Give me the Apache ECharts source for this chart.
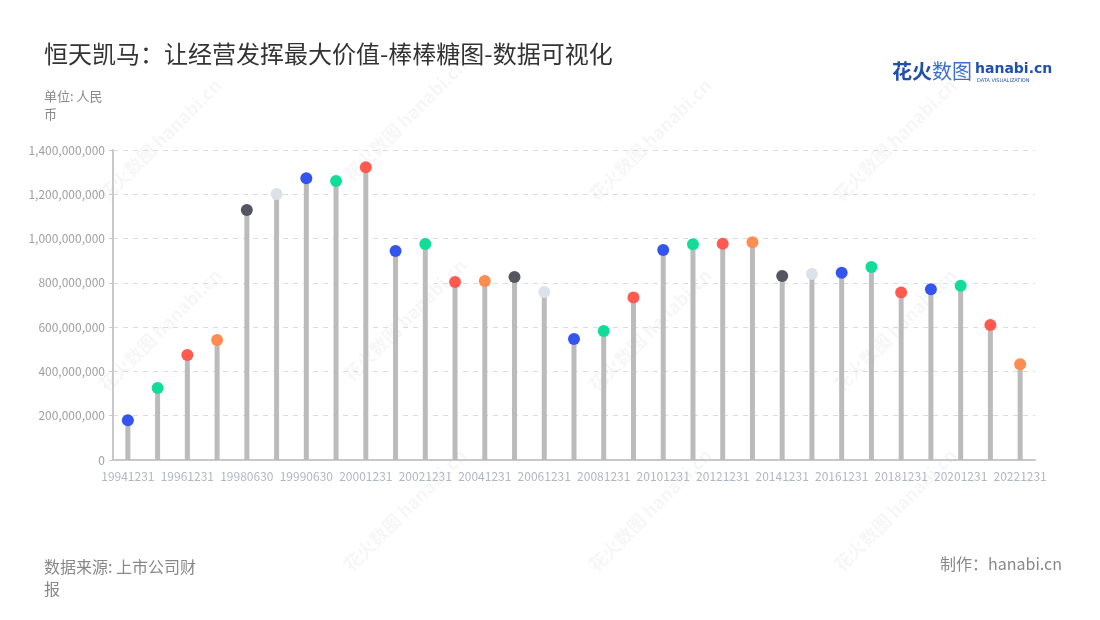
<!DOCTYPE html>
<html>
<head>
<meta charset="utf-8">
<script src="https://cdn.jsdelivr.net/npm/echarts@6/dist/echarts.min.js"></script>
<style>
html,body{margin:0;padding:0;background:#fff;}
#main{width:1100px;height:620px;}
</style>
</head>
<body>
<div id="main"></div>
<script>
const categories = ['19941231','19951231','19961231','19971231','19980630','19981231','19990630','19991231',
  '20001231','20011231','20021231','20031231','20041231','20051231','20061231','20071231','20081231','20091231',
  '20101231','20111231','20121231','20131231','20141231','20151231','20161231','20171231','20181231','20191231',
  '20201231','20211231','20221231'];
const values = [180e6,325e6,474e6,542e6,1129e6,1201e6,1272e6,1260e6,
  1322e6,944e6,975e6,804e6,808e6,826e6,759e6,546e6,583e6,734e6,
  948e6,974e6,977e6,983e6,831e6,840e6,846e6,872e6,756e6,771e6,
  787e6,610e6,432e6];
const palette = ['#3355ee','#11dd99','#ff5a50','#ff8c50','#55555f','#dde1ea','#3355ee','#11dd99','#ff5a50'];
const yTicks = { min: 0, max: 1400000000, interval: 200000000 };

const chart = echarts.init(document.getElementById('main'));
const font = '"Noto Sans CJK SC","Noto Sans",sans-serif';

const watermarks = [];
const wmPos = [[160,140],[405,120],[650,140],[895,140],[160,330],[405,320],[650,330],[895,330],[405,510],[650,510],[895,510]];
wmPos.forEach(p => {
  watermarks.push({
    type: 'text', x: p[0], y: p[1], rotation: Math.PI/4, z: 0, silent: true,
    style: { text: '花火数图 hanabi.cn', fill: 'rgba(0,0,0,0.035)', font: 'bold 18px ' + font, align: 'center', verticalAlign: 'middle' }
  });
});

chart.setOption({
  animation: false,
  backgroundColor: '#fff',
  textStyle: { fontFamily: font },
  title: [
    { text: '恒天凯马：让经营发挥最大价值-棒棒糖图-数据可视化', left: 39, top: 37,
      textStyle: { fontSize: 24, fontWeight: 'normal', color: '#333', fontFamily: font } },
    { text: '单位: 人民\n币', left: 39, top: 82,
      textStyle: { fontSize: 13, fontWeight: 'normal', color: '#888', lineHeight: 18, fontFamily: font } },
    { text: '数据来源: 上市公司财\n报', left: 39, top: 551,
      textStyle: { fontSize: 16, fontWeight: 'normal', color: '#888', lineHeight: 22, fontFamily: font } },
    { text: '制作：hanabi.cn', right: 33, top: 551,
      textStyle: { fontSize: 16, fontWeight: 'normal', color: '#888', fontFamily: font } }
  ],
  graphic: watermarks.concat([
    { type: 'text', x: 892, y: 61, z: 10,
      style: { text: '花火', fill: '#1f4fb0', font: 'bold 20px ' + font } },
    { type: 'text', x: 932, y: 61, z: 10,
      style: { text: '数图', fill: '#3a6fd0', font: '20px ' + font } },
    { type: 'text', x: 975, y: 62, z: 10,
      style: { text: 'hanabi.cn', fill: '#1f4fb0', font: 'bold 14px "DejaVu Sans",sans-serif' } },
    { type: 'text', x: 977, y: 78, z: 10,
      style: { text: 'DATA VISUALIZATION', fill: '#1f4fb0', font: '5px "DejaVu Sans",sans-serif' } }
  ]),
  grid: { left: 113, right: 65, top: 150, bottom: 160, containLabel: false },
  xAxis: {
    type: 'category',
    data: categories,
    axisLine: { lineStyle: { color: '#c8c8c8', width: 2 } },
    axisTick: { alignWithLabel: true, interval: 1, length: 5, lineStyle: { color: '#c8c8c8' } },
    axisLabel: { interval: 1, color: '#b0b6c4', fontSize: 12, margin: 10 }
  },
  yAxis: {
    type: 'value',
    min: yTicks.min, max: yTicks.max, interval: yTicks.interval,
    axisLine: { show: true, lineStyle: { color: '#c8c8c8', width: 2 } },
    axisTick: { show: true, length: 4, lineStyle: { color: '#c8c8c8' } },
    axisLabel: { color: '#a0a0a0', fontSize: 12, margin: 8 },
    splitLine: { lineStyle: { color: '#dcdcdc', type: [5, 5] } }
  },
  series: [
    { type: 'bar', data: values, barWidth: 5, itemStyle: { color: '#bbbbbb' }, z: 2 },
    { type: 'scatter', data: values.map((v, i) => ({ value: v, itemStyle: { color: palette[i % palette.length], opacity: 1 } })),
      symbolSize: 12, itemStyle: { opacity: 1 }, z: 3 }
  ]
});
</script>
</body>
</html>
